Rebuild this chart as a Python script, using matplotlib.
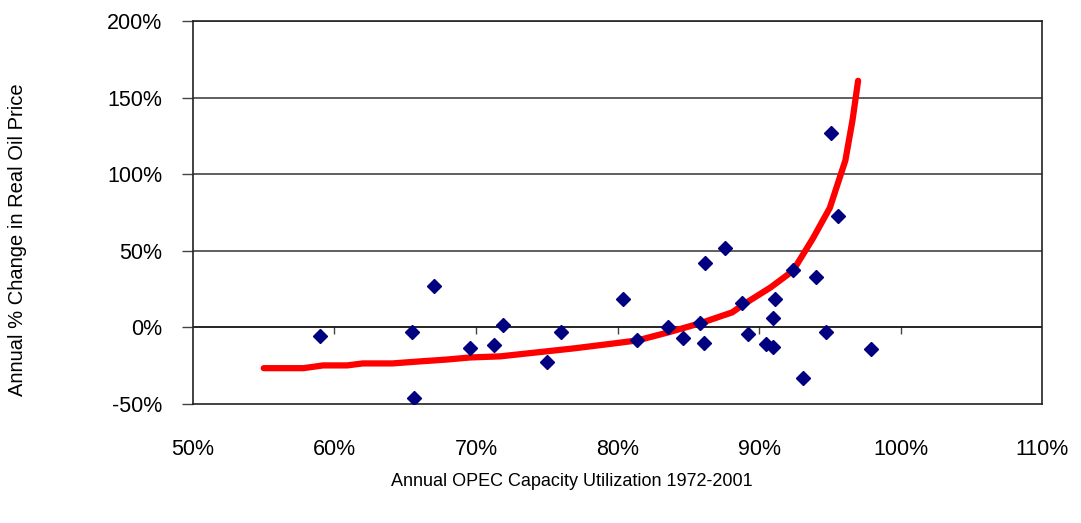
import matplotlib
matplotlib.use("Agg")
from matplotlib import pyplot as plt
from matplotlib.ticker import FuncFormatter

plt.rcParams['font.family'] = ['Liberation Sans', 'DejaVu Sans']

# annual OPEC capacity utilization (%) vs change in real oil price (%), 1972-2001
util = [59.0, 65.5, 65.6, 67.0, 69.6, 71.3, 71.9, 75.0, 76.0, 80.4,
        81.4, 83.6, 84.6, 85.8, 86.1, 86.2, 87.6, 88.8, 89.2, 90.5,
        91.0, 91.0, 91.1, 92.4, 93.1, 94.0, 94.7, 95.1, 95.6, 97.9]
price_chg = [-5.9, -3.3, -46.0, 26.8, -13.7, -11.7, 1.3, -22.8, -3.3, 18.3,
             -8.5, 0.0, -7.2, 2.6, -10.4, 41.8, 51.6, 15.7, -4.6, -11.1,
             -13.1, 5.9, 18.3, 37.2, -33.3, 32.6, -3.3, 127.0, 73.0, -14.4]

# fitted curve
fit_x = [55.0, 57.8, 59.2, 60.9, 62.0, 64.1, 66.0, 67.9, 69.6, 71.7,
         74.3, 76.9, 79.7, 81.4, 83.6, 85.8, 88.1, 88.9, 90.8, 92.4,
         93.8, 95.0, 96.1, 96.6, 97.0]
fit_y = [-26.6, -26.6, -24.8, -24.8, -23.5, -23.5, -22.2, -21.0, -19.6, -18.9,
         -16.3, -13.7, -10.5, -8.5, -3.2, 2.6, 9.8, 15.0, 26.0, 37.0,
         58.0, 78.0, 109.0, 135.0, 161.0]

x_ticks = [50, 60, 70, 80, 90, 100, 110]
y_ticks = [-50, 0, 50, 100, 150, 200]

fig = plt.figure(figsize=(10.81, 5.23), dpi=100)
ax = fig.add_axes([0.1785, 0.2275, 0.7855, 0.7323])

for y in [50, 100, 150, 200]:
    ax.axhline(y, color='#444444', lw=1.2, zorder=1)
ax.axhline(0, color='black', lw=1.2, zorder=1)

ax.plot(fit_x, fit_y, color='#ff0000', lw=4.5, solid_capstyle='round', zorder=2)
ax.plot(util, price_chg, linestyle='none', marker='D', markersize=7,
        color='#000080', zorder=3)

ax.set_xlim(50, 110)
ax.set_ylim(-50, 200)
ax.set_xticks(x_ticks)
ax.set_yticks(y_ticks)
pct = FuncFormatter(lambda v, p: f"{v:.0f}%")
ax.xaxis.set_major_formatter(pct)
ax.yaxis.set_major_formatter(pct)

ax.tick_params(axis='x', length=0, pad=25, labelsize=15.5)
ax.tick_params(axis='y', length=8, width=1, direction='out', pad=14,
               labelsize=15.5, color='#444444')

for s in ax.spines.values():
    s.set_color('#222222')
    s.set_linewidth(1.2)

# tick marks sitting on the zero line
sec = ax.secondary_xaxis(0.2)
sec.set_xticks(x_ticks[1:-1])
sec.tick_params(axis='x', direction='out', length=5, width=1, labelbottom=False,
                color='#444444')
sec.spines['bottom'].set_visible(False)

fig.text(18 / 1081, 1 - 240 / 523, 'Annual % Change in Real Oil Price',
         rotation=90, ha='center', va='center', fontsize=14.5)
fig.text(572 / 1081, 1 - 482 / 523, 'Annual OPEC Capacity Utilization 1972-2001',
         ha='center', va='center', fontsize=13)

fig.savefig('out.png', dpi=100)
